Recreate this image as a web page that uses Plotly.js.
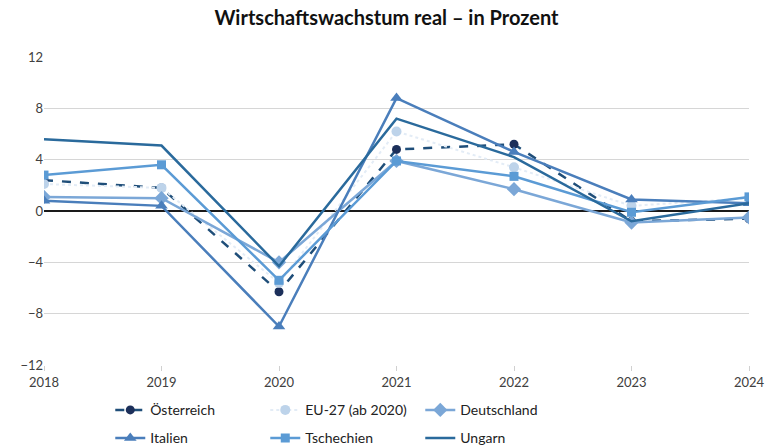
<!DOCTYPE html>
<html><head><meta charset="utf-8">
<script src="https://cdn.plot.ly/plotly-3.0.1.min.js"></script>
<style>html,body{margin:0;padding:0;background:#fff}#c{width:773px;height:447px}</style>
</head><body><div id="c"></div>
<script>
const years = [2018, 2019, 2020, 2021, 2022, 2023, 2024];
const oesterreich = [2.4, 1.8, -6.3, 4.8, 5.2, -0.8, -0.6];
const eu27 = [2.1, 1.8, -5.6, 6.2, 3.4, 0.4, 1.0];
const deutschland = [1.1, 1.0, -4.0, 3.9, 1.7, -0.9, -0.5];
const italien = [0.8, 0.4, -9.0, 8.8, 4.6, 0.9, 0.6];
const tschechien = [2.8, 3.6, -5.4, 3.9, 2.7, -0.1, 1.1];
const ungarn = [5.6, 5.1, -4.3, 7.2, 4.2, -0.8, 0.6];
const yTicks = [-12, -8, -4, 0, 4, 8, 12];

const traces = [
  {name:'Österreich', y:oesterreich, line:{color:'#1f4e79', width:2.5, dash:'dash'}, marker:{symbol:'circle', size:9, color:'#1c2f5a'}, legend:'legend'},
  {name:'EU-27 (ab 2020)', y:eu27, line:{color:'#e3ecf6', width:2, dash:'dot'}, marker:{symbol:'circle', size:10, color:'#bdd3ea'}, legend:'legend'},
  {name:'Deutschland', y:deutschland, line:{color:'#7ba7d7', width:2.5}, marker:{symbol:'diamond', size:11, color:'#7ba7d7'}, legend:'legend'},
  {name:'Italien', y:italien, line:{color:'#4a7ebb', width:2.5}, marker:{symbol:'triangle-up', size:11, color:'#4a7ebb'}, legend:'legend2'},
  {name:'Tschechien', y:tschechien, line:{color:'#5b9bd5', width:2.5}, marker:{symbol:'square', size:9, color:'#5b9bd5'}, legend:'legend2'},
  {name:'Ungarn', y:ungarn, line:{color:'#2a6a9c', width:2.5}, mode:'lines', legend:'legend2'}
].map(t => Object.assign({x:years, type:'scatter', mode:'lines+markers'}, t));

const lg = {orientation:'h', xref:'paper', yref:'paper', xanchor:'left', yanchor:'middle',
  entrywidth:110, entrywidthmode:'pixels', font:{family:'Lato, sans-serif', size:14, color:'#222'},
  bgcolor:'rgba(0,0,0,0)', traceorder:'normal', itemwidth:30};

const layout = {
  width:773, height:447,
  margin:{l:44, r:24, t:57, b:82, autoexpand:false},
  paper_bgcolor:'#fff', plot_bgcolor:'#fff',
  font:{family:'Lato, sans-serif', color:'#404040', size:13},
  title:{text:'<b>Wirtschaftswachstum real – in Prozent</b>', x:0.5, xanchor:'center', y:0.96, yanchor:'middle', font:{size:20, color:'#111'}},
  xaxis:{range:[2018, 2024], tickvals:years, ticktext:years.map(String), showgrid:false, zeroline:false,
    ticks:'outside', ticklen:5, tickcolor:'#d0d0d0', showline:false, tickfont:{size:13, color:'#404040'}},
  yaxis:{range:[-12, 12], tickvals:yTicks, ticktext:yTicks.map(v => v < 0 ? '−' + Math.abs(v) : String(v)), showgrid:true, gridcolor:'#d6d6d6', gridwidth:1.5,
    zeroline:true, zerolinecolor:'#1a1a1a', zerolinewidth:2, showline:false, ticks:'', tickfont:{size:13, color:'#404040'}},
  showlegend:true,
  legend:Object.assign({}, lg, {x:0.094, y:-0.147}),
  legend2:Object.assign({}, lg, {x:0.094, y:-0.238})
};

Plotly.newPlot('c', traces, layout, {displayModeBar:false, staticPlot:true});
</script></body></html>
